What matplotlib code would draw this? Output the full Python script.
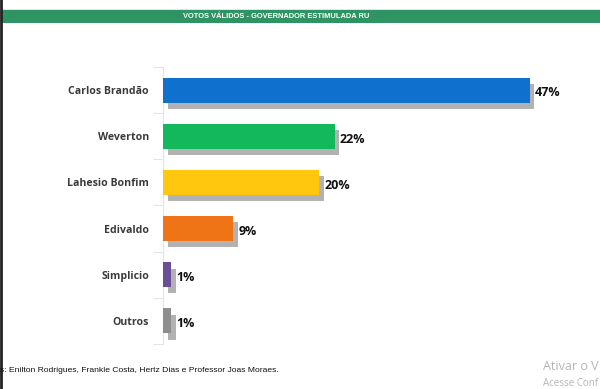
import matplotlib.pyplot as plt
import matplotlib.patheffects as pe
from matplotlib.patches import Rectangle

candidatos = ['Carlos Brandão', 'Weverton', 'Lahesio Bonfim', 'Edivaldo', 'Simplicio', 'Outros']
votos      = [47, 22, 20, 9, 1, 1]
cores      = ['#1070CE', '#14B85C', '#FFC80F', '#EE7416', '#6A4E96', '#8E8E8E']

titulo = 'VOTOS VÁLIDOS - GOVERNADOR ESTIMULADA RU'
rodape = 's: Enilton Rodrigues, Frankle Costa, Hertz Dias e Professor Joas Moraes.'

W, H = 600, 389
fig = plt.figure(figsize=(W / 100, H / 100), dpi=100)
fig.patch.set_facecolor('white')

# faixa verde do titulo
fig.patches.append(Rectangle((1 / W, 1 - 22.5 / H), 1, 12.5 / H, transform=fig.transFigure,
                             facecolor='#2F9463', edgecolor='none'))
fig.patches.append(Rectangle((1 / W, 1 - 10 / H), 1, 1.2 / H, transform=fig.transFigure,
                             facecolor='#CFEFE0', edgecolor='none'))
fig.text(276 / W, 1 - 16.3 / H, titulo, color='white', fontsize=5.4, fontweight='bold',
         ha='center', va='center', family='Liberation Sans')

# linha escura na borda esquerda
fig.add_artist(plt.Line2D([1 / W, 1 / W], [0, 1], transform=fig.transFigure, color='#222222', lw=2))

ax = fig.add_axes([163 / W, 1 - 344 / H, 390 / W, 277 / H])
y = list(range(len(candidatos)))
bars = ax.barh(y, votos, height=0.54, color=cores, edgecolor='none', zorder=3)
for b in bars:
    b.set_path_effects([pe.SimplePatchShadow(offset=(3.5, -4.5), shadow_rgbFace='#808080', alpha=0.6),
                        pe.Normal()])

for yi, v in zip(y, votos):
    ax.text(v + 0.65, yi + 0.06, f'{v}%', va='center', ha='left', fontsize=9,
            fontweight='bold', color='#111111', family='Open Sans')

ax.set_xlim(0, 50)
ax.set_ylim(len(candidatos) - 0.5, -0.5)
ax.set_yticks(y)
ax.set_yticklabels(candidatos, fontsize=7.6, fontweight='bold', color='#3a3a3a', family='Open Sans')
ax.tick_params(axis='y', length=0, pad=10)
ax.set_yticks([i + 0.5 for i in range(-1, len(candidatos))], minor=True)
ax.tick_params(axis='y', which='minor', length=7, color='#dde6ee', width=0.8)
ax.set_xticks([])
for s in ['top', 'right', 'bottom']:
    ax.spines[s].set_visible(False)
ax.spines['left'].set_color('#dde6ee')
ax.spines['left'].set_linewidth(0.8)

# rodape e marca d'agua
fig.text(0.5 / W, 1 - 371 / H, rodape, fontsize=6.1, color='#111111', va='center', ha='left',
         family='Liberation Sans')
fig.text(543 / W, 1 - 367 / H, 'Ativar o V', fontsize=9, color='#b5b5b5', va='center',
         ha='left', family='Open Sans')
fig.text(543 / W, 1 - 383 / H, 'Acesse Conf', fontsize=7, color='#b5b5b5', va='center',
         ha='left', family='Open Sans')

fig.savefig('out.png', dpi=100)
